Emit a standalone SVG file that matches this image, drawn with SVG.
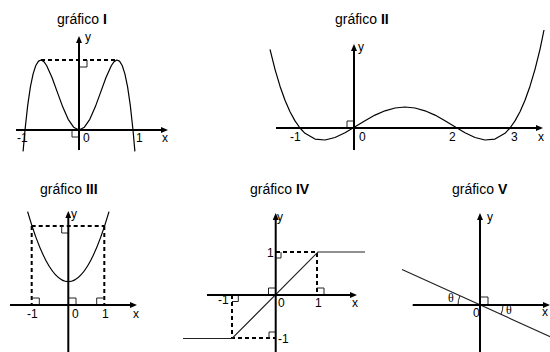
<svg xmlns="http://www.w3.org/2000/svg" width="550" height="352" viewBox="0 0 550 352">
<style>
.ax{stroke:#000;stroke-width:2;fill:none;marker-end:url(#arr)}
.cv{stroke:#000;stroke-width:1.2;fill:none;stroke-linejoin:round}
.ln{stroke:#222;stroke-width:1.1;fill:none}
.ds{stroke:#000;stroke-width:2;fill:none;stroke-dasharray:4 3}
.ra{stroke:#222;stroke-width:1;fill:none}
.t{font-family:"Liberation Sans",Arial,sans-serif;font-size:14px;fill:#000}
.t tspan{font-weight:bold}
.l{font-family:"Liberation Sans",Arial,sans-serif;font-size:12px;fill:#000}
.th{font-family:"Liberation Serif","Times New Roman",serif;font-size:12px;fill:#000}
</style>
<defs>
<marker id="arr" markerUnits="userSpaceOnUse" markerWidth="8" markerHeight="6" refX="2" refY="3" orient="auto"><path d="M0,0 L7,3 L0,6 z" fill="#000"/></marker>
</defs>
<rect width="550" height="352" fill="#fff"/>

<g id="grafico-I">
<text class="t" x="57" y="24">gráfico <tspan>I</tspan></text>
<path class="ds" d="M41,60 H117"/>
<polyline class="cv" points="23.1,151.4 25,130 27.7,105.4 30.4,86.9 33.1,73.9 35.8,65.5 38.5,61.1 41.2,60 43.9,61.7 46.6,65.5 52,77.5 57.4,92.4 62.8,107.1 68.2,119.3 73.6,127.2 79,130 84.4,127.2 89.8,119.3 95.2,107.1 100.6,92.4 106,77.5 111.4,65.5 114.1,61.7 116.8,60 119.5,61.1 122.2,65.5 124.9,73.9 127.6,86.9 130.3,105.4 133,130 134.9,151.4"/>
<path class="ra" d="M72,130 V137 H79 M87,60 V67 H79"/>
<path class="ax" d="M16,130 H163"/>
<path class="ax" d="M79,150 V41"/>
<text class="l" x="85" y="41">y</text>
<text class="l" x="17" y="142">-1</text>
<text class="l" x="83" y="142">0</text>
<text class="l" x="136" y="142">1</text>
<text class="l" x="162" y="142">x</text>
</g>

<g id="grafico-II">
<text class="t" x="335" y="24">gráfico <tspan>II</tspan></text>
<polyline class="cv" points="270,49.3 275,69.3 280,86.2 285,100.2 290,111.7 295,120.9 300,128 305,133.3 315,139.1 325,140 335,137.5 345,132.7 353,128 365,120.7 375,115.1 385,110.8 395,108 405,107 415,108 425,110.8 435,115.1 445,120.7 457,128 465,132.7 475,137.5 485,140 495,139.1 505,133.3 510,128 515,120.9 520,111.7 525,100.2 530,86.2 535,69.3 540,49.3 544,30"/>
<path class="ra" d="M347,128 V121 H354"/>
<path class="ax" d="M276,128 H538"/>
<path class="ax" d="M354,150 V49"/>
<text class="l" x="358" y="51">y</text>
<text class="l" x="290" y="141">-1</text>
<text class="l" x="359" y="141">0</text>
<text class="l" x="449" y="141">2</text>
<text class="l" x="511" y="141">3</text>
<text class="l" x="538" y="141">x</text>
</g>

<g id="grafico-III">
<text class="t" x="40" y="194">gráfico <tspan>III</tspan></text>
<path class="ds" d="M31.7,226 H104.3 M31.7,226 V305 M104.3,226 V305"/>
<path class="cv" d="M27.6,211.7 Q68.3,351.7 109,211.7"/>
<path class="ra" d="M31.7,298 H39.3 V305 M68.3,298 H76 V305 M104.3,298 H96.7 V305 M61.7,226 V233 H68.3"/>
<path class="ax" d="M10,305 H132"/>
<path class="ax" d="M68.3,352 V216"/>
<text class="l" x="71" y="218">y</text>
<text class="l" x="27" y="318">-1</text>
<text class="l" x="72" y="318">0</text>
<text class="l" x="102" y="318">1</text>
<text class="l" x="133" y="318">x</text>
</g>

<g id="grafico-IV">
<text class="t" x="250" y="194">gráfico <tspan>IV</tspan></text>
<path class="ds" d="M276,252 H317 V295 M232,295 V338 H276"/>
<path class="ln" d="M183,338.5 H232 L318,252 H365"/>
<path class="ra" d="M275.7,288 H268.5 V295 M316.7,288 H324 V295 M275.7,258 H281 V252 M232,301.5 H238.3 V295 M269,338 V332 H275.7"/>
<path class="ax" d="M207,295 H352"/>
<path class="ax" d="M275.7,352 V218"/>
<text class="l" x="277" y="221">y</text>
<text class="l" x="267" y="257">1</text>
<text class="l" x="218" y="304">-1</text>
<text class="l" x="278" y="307">0</text>
<text class="l" x="315" y="307">1</text>
<text class="l" x="352" y="307">x</text>
<text class="l" x="278" y="343">-1</text>
</g>

<g id="grafico-V">
<text class="t" x="452" y="194">gráfico <tspan>V</tspan></text>
<path class="ln" d="M402,269.5 L552,337.5"/>
<path class="ra" d="M458,305 A22,22 0 0,1 459.9,296 M503,305 A23,23 0 0,1 501,314.4 M480,297 H488 V305"/>
<path class="ax" d="M412.7,305 H545"/>
<path class="ax" d="M480,352 V218"/>
<text class="l" x="487" y="221">y</text>
<text class="th" x="448" y="302">θ</text>
<text class="l" x="473" y="317">0</text>
<text class="th" x="506" y="314">θ</text>
<text class="l" x="542" y="316">x</text>
</g>
</svg>
